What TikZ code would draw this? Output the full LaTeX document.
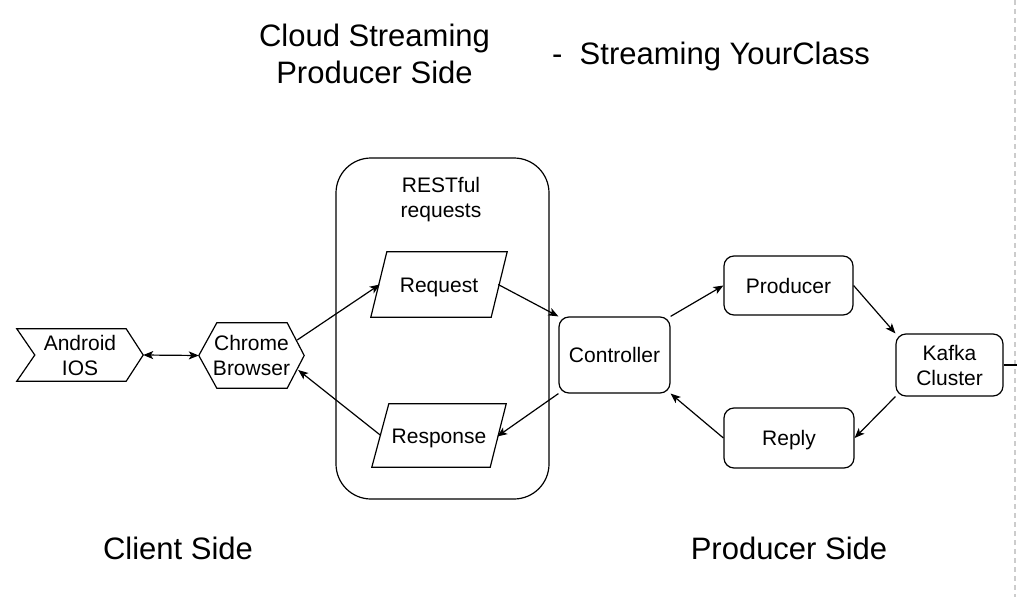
\documentclass[tikz,border=0pt]{standalone}
\usepackage{fontspec}
\setmainfont{Liberation Sans}
\usetikzlibrary{arrows.meta,calc}
\tikzset{
  txt/.style={inner sep=0pt, align=center, font=\fontsize{21}{25}\selectfont},
  oneline/.style={text height=15pt, text depth=0pt},
  boxnode/.style={txt, draw, line width=1.2pt, rounded corners=10pt},
  shapeline/.style={line width=1.2pt, line join=miter},
  conn/.style={line width=1.2pt, -{Stealth[length=10pt,width=8pt,inset=2.5pt]}},
  biconn/.style={line width=1.2pt, {Stealth[length=10pt,width=8pt,inset=2.5pt]}-{Stealth[length=10pt,width=8pt,inset=2.5pt]}},
  bigtxt/.style={inner sep=0pt, align=center, font=\fontsize{31}{37}\selectfont},
}
\begin{document}
\begin{tikzpicture}[x=1pt,y=-1pt]
\useasboundingbox[fill=white] (0,0) rectangle (1017,597);

% titles
\node[bigtxt] (title) at (374.5,53.5) {Cloud Streaming\\Producer Side};
\node[bigtxt, anchor=west, text height=22pt, text depth=0pt] (subtitle) at (552,53) {-\ \ Streaming YourClass};
\node[bigtxt] (client) at (178,548) {Client Side};
\node[bigtxt] (prodside) at (789,548) {Producer Side};

% separator
\coordinate (septop) at (1015,0);
\coordinate (sepbot) at (1015,597);
\draw[gray!40, line width=1.2pt, dash pattern=on 5pt off 4pt] (septop) -- (sepbot);

% Android / IOS chevron
\node[txt, minimum width=126pt, minimum height=52pt] (and) at (80,355) {Android\\IOS};
\draw[shapeline] (and.north west) -- ($(and.north east)+(-17,0)$) -- (and.east)
  -- ($(and.south east)+(-17,0)$) -- (and.south west) -- ($(and.west)+(18,0)$) -- cycle;

% Chrome Browser hexagon
\node[txt, minimum width=105pt, minimum height=65pt] (chr) at (251.5,355.5) {Chrome\\Browser};
\draw[shapeline] ($(chr.north west)+(18,0)$) -- ($(chr.north east)+(-17,0)$) -- (chr.east)
  -- ($(chr.south east)+(-17,0)$) -- ($(chr.south west)+(18,0)$) -- (chr.west) -- cycle;

% RESTful container
\node[draw, line width=1.2pt, rounded corners=35pt, minimum width=213pt, minimum height=341pt, inner sep=0pt] (rest) at (442.5,328.5) {};
\node[txt] (restlbl) at (441,200) {RESTful\\requests};

% Request parallelogram
\node[txt, oneline, minimum width=136pt, minimum height=65pt] (req) at (439,284.5) {Request};
\draw[shapeline] (req.south west) -- ($(req.north west)+(16,0)$) -- (req.north east)
  -- ($(req.south east)+(-16,0)$) -- cycle;

% Response parallelogram
\node[txt, oneline, minimum width=134pt, minimum height=63pt] (resp) at (439,435.5) {Response};
\draw[shapeline] (resp.south west) -- ($(resp.north west)+(17,0)$) -- (resp.north east)
  -- ($(resp.south east)+(-16,0)$) -- cycle;

% boxes
\node[boxnode, oneline, minimum width=111pt, minimum height=76pt] (ctrl) at (614.5,355) {Controller};
\node[boxnode, oneline, minimum width=129pt, minimum height=59pt] (prod) at (788.5,285.5) {Producer};
\node[boxnode, oneline, minimum width=130pt, minimum height=60pt] (reply) at (789,438) {Reply};
\node[boxnode, minimum width=107pt, minimum height=62pt] (kafka) at (949.5,365) {Kafka\\Cluster};
\coordinate (kout) at (1017,365);

% connectors
\draw[biconn] (and.east) -- (chr.west);
\draw[conn] ($(chr.east)+(-7,-15.5)$) -- ($(req.west)+(9,0)$);
\draw[conn] ($(resp.west)+(9,0)$) -- ($(chr.east)+(-6,14.5)$);
\draw[conn] ($(req.east)+(-9,0)$) -- (ctrl.north west);
\draw[conn] (ctrl.south west) -- ($(resp.east)+(-9,1)$);
\draw[conn] (ctrl.north east) -- (prod.west);
\draw[conn] (prod.east) -- (kafka.north west);
\draw[conn] (kafka.south west) -- (reply.east);
\draw[conn] (reply.west) -- (ctrl.south east);
\draw[line width=1.2pt] (kafka.east) -- (kout);
\end{tikzpicture}
\end{document}
